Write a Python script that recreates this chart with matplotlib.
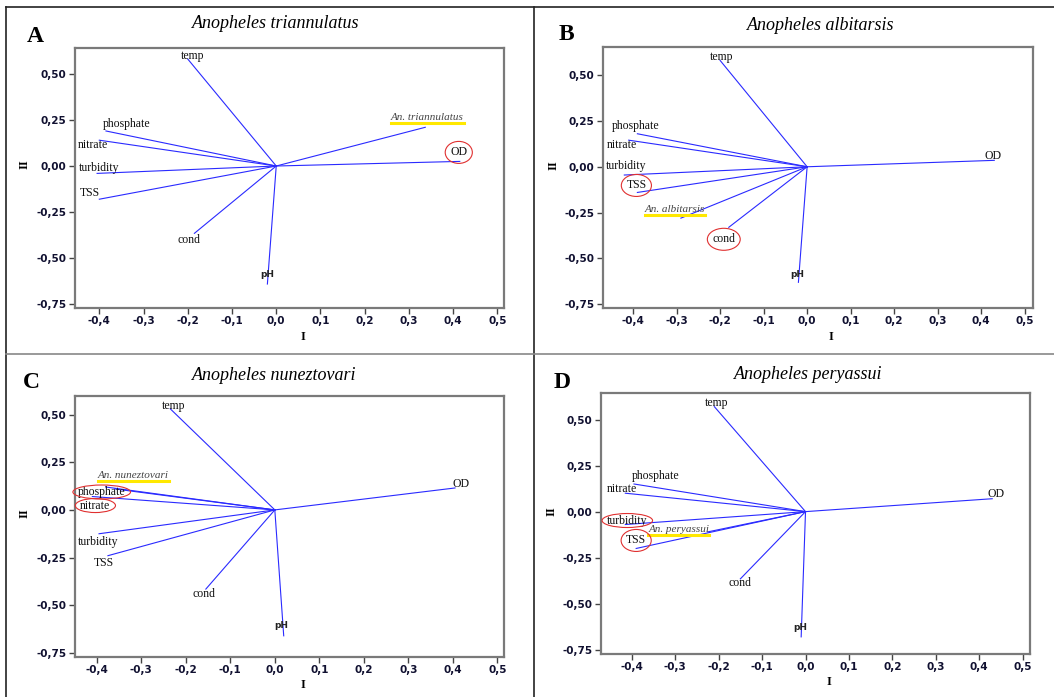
import matplotlib
matplotlib.use('Agg')
import matplotlib.pyplot as plt
from matplotlib.patches import Ellipse
from matplotlib.lines import Line2D

W, H = 1054, 697

variables = ['temp', 'phosphate', 'nitrate', 'turbidity', 'TSS', 'cond', 'pH', 'OD']

# loadings on axis I and axis II
a_pc1 = [-0.20, -0.385, -0.40, -0.405, -0.40, -0.185, -0.02, 0.415]
a_pc2 = [0.58, 0.19, 0.14, -0.04, -0.18, -0.365, -0.64, 0.025]
b_pc1 = [-0.20, -0.39, -0.41, -0.42, -0.39, -0.18, -0.02, 0.43]
b_pc2 = [0.58, 0.18, 0.145, -0.045, -0.14, -0.33, -0.63, 0.035]
c_pc1 = [-0.235, -0.38, -0.41, -0.395, -0.375, -0.155, 0.02, 0.405]
c_pc2 = [0.53, 0.12, 0.07, -0.125, -0.24, -0.415, -0.66, 0.115]
d_pc1 = [-0.21, -0.395, -0.415, -0.415, -0.39, -0.15, -0.01, 0.43]
d_pc2 = [0.57, 0.15, 0.10, -0.07, -0.20, -0.365, -0.68, 0.07]

titles = ['Anopheles triannulatus', 'Anopheles albitarsis',
          'Anopheles nuneztovari', 'Anopheles peryassui']
species = ['An. triannulatus', 'An. albitarsis', 'An. nuneztovari', 'An. peryassui']
sp_pc1 = [0.337, -0.29, -0.36, -0.225]
sp_pc2 = [0.21, -0.28, 0.11, -0.11]
circled = [['OD'], ['TSS', 'cond'], ['phosphate', 'nitrate'], ['turbidity', 'TSS']]

xticks = [-0.4, -0.3, -0.2, -0.1, 0.0, 0.1, 0.2, 0.3, 0.4, 0.5]
yticks = [-0.75, -0.50, -0.25, 0.0, 0.25, 0.50]
xtick_labels = ['-0,4', '-0,3', '-0,2', '-0,1', '0,0', '0,1', '0,2', '0,3', '0,4', '0,5']
ytick_labels = ['-0,75', '-0,50', '-0,25', '0,00', '0,25', '0,50']

# label offsets from the arrow tip, in pixels
off_a = {'temp': (5, 3), 'phosphate': (21, 7), 'nitrate': (-6, -5), 'turbidity': (2, 5),
         'TSS': (-9, 6), 'cond': (-5, -7), 'pH': (0, 10), 'OD': (-1, 9), 'sp': (2, 10)}
off_b = {'temp': (2, 3), 'phosphate': (-2, 8), 'nitrate': (-7, -5), 'turbidity': (2, 9),
         'TSS': (-1, 7), 'cond': (-5, -12), 'pH': (-1, 8), 'OD': (-1, 4), 'sp': (-6, 9)}
off_c = {'temp': (3, 3), 'phosphate': (-4, -5), 'nitrate': (3, -9), 'turbidity': (-1, -8),
         'TSS': (-4, -7), 'cond': (-2, -5), 'pH': (-2, 10), 'OD': (6, 4), 'sp': (19, 13)}
off_d = {'temp': (2, 4), 'phosphate': (22, 8), 'nitrate': (-3, 4), 'turbidity': (2, 4),
         'TSS': (0, 8), 'cond': (0, -4), 'pH': (-1, 9), 'OD': (4, 5), 'sp': (-29, 2)}

panels = [
    dict(letter='A', box=(75, 48, 504, 308), xlim=(-0.455, 0.515), ylim=(-0.77, 0.64),
         pc1=a_pc1, pc2=a_pc2, off=off_a,
         title_xy=(276, 24), letter_xy=(35, 36), ylab_xy=(25, 164), xlab_xy=(303, 337)),
    dict(letter='B', box=(603, 47, 1033, 308), xlim=(-0.469, 0.519), ylim=(-0.77, 0.653),
         pc1=b_pc1, pc2=b_pc2, off=off_b,
         title_xy=(821, 26), letter_xy=(566, 34), ylab_xy=(554, 165), xlab_xy=(831, 337)),
    dict(letter='C', box=(75, 396, 504, 657), xlim=(-0.449, 0.515), ylim=(-0.771, 0.597),
         pc1=c_pc1, pc2=c_pc2, off=off_c,
         title_xy=(274, 376), letter_xy=(31, 383), ylab_xy=(25, 513), xlab_xy=(303, 685)),
    dict(letter='D', box=(601, 393, 1030, 654), xlim=(-0.471, 0.517), ylim=(-0.773, 0.644),
         pc1=d_pc1, pc2=d_pc2, off=off_d,
         title_xy=(808, 375), letter_xy=(562, 383), ylab_xy=(552, 511), xlab_xy=(829, 682)),
]

line_color = '#2a2aff'
serif = 'Liberation Serif'

fig = plt.figure(figsize=(W / 100, H / 100), dpi=100)


def fx(x):
    return x / W


def fy(y):
    return 1 - y / H


species_texts = []
circle_texts = []

for i, p in enumerate(panels):
    l, t, r, b = p['box']
    ax = fig.add_axes([fx(l), fy(b), (r - l) / W, (b - t) / H])
    ax.set_xlim(*p['xlim'])
    ax.set_ylim(*p['ylim'])
    ax.set_xticks(xticks)
    ax.set_xticklabels(xtick_labels)
    ax.set_yticks(yticks)
    ax.set_yticklabels(ytick_labels)
    ax.tick_params(length=4, width=1, color='#444444', labelsize=7.5, labelcolor='#101030', pad=2)
    for lab in ax.get_xticklabels() + ax.get_yticklabels():
        lab.set_fontweight('bold')
    for s in ax.spines.values():
        s.set_color('#7a7a7a')
        s.set_linewidth(1.6)

    for name, x, y in zip(variables, p['pc1'], p['pc2']):
        ax.plot([0, x], [0, y], color=line_color, lw=0.8)
        dx, dy = p['off'][name]
        if name == 'pH':
            txt = ax.annotate(name, (x, y), xytext=(dx, dy), textcoords='offset pixels',
                              ha='center', va='center', fontsize=6.5, fontweight='bold',
                              color='#222222')
        else:
            txt = ax.annotate(name, (x, y), xytext=(dx, dy), textcoords='offset pixels',
                              ha='center', va='center', fontsize=8.5, family=serif,
                              color='#111111')
        if name in circled[i]:
            circle_texts.append(txt)

    sx, sy = sp_pc1[i], sp_pc2[i]
    ax.plot([0, sx], [0, sy], color=line_color, lw=0.8)
    dx, dy = p['off']['sp']
    st = ax.annotate(species[i], (sx, sy), xytext=(dx, dy), textcoords='offset pixels',
                     ha='center', va='center', fontsize=8, family=serif, style='italic',
                     color='#444444')
    species_texts.append(st)

    fig.text(fx(p['title_xy'][0]), fy(p['title_xy'][1]), titles[i], ha='center', va='center',
             family=serif, style='italic', fontsize=13)
    fig.text(fx(p['letter_xy'][0]), fy(p['letter_xy'][1]), p['letter'], ha='center', va='center',
             family=serif, fontweight='bold', fontsize=17)
    fig.text(fx(p['ylab_xy'][0]), fy(p['ylab_xy'][1]), 'II', ha='center', va='center',
             family=serif, fontweight='bold', fontsize=9, rotation=90)
    fig.text(fx(p['xlab_xy'][0]), fy(p['xlab_xy'][1]), 'I', ha='center', va='center',
             family=serif, fontweight='bold', fontsize=9)

# panel frame lines
fig.add_artist(Line2D([fx(6), 1], [fy(7), fy(7)], color='#222222', lw=1.2))
fig.add_artist(Line2D([fx(6), fx(6)], [fy(7), 0], color='#222222', lw=1.2))
fig.add_artist(Line2D([fx(534), fx(534)], [fy(7), 0], color='#222222', lw=1.2))
fig.add_artist(Line2D([fx(6), 1], [fy(354), fy(354)], color='#888888', lw=1.2))

# yellow underlines and red rings sized from the drawn text
fig.canvas.draw()
renderer = fig.canvas.get_renderer()
for st in species_texts:
    bb = st.get_window_extent(renderer)
    fig.add_artist(Line2D([bb.x0 / W, bb.x1 / W], [(bb.y0 - 1) / H, (bb.y0 - 1) / H],
                          color='#ffe800', lw=2.2, zorder=1))
for txt in circle_texts:
    bb = txt.get_window_extent(renderer)
    w = bb.width + 10
    h = 22 if bb.width < 25 else 14
    fig.add_artist(Ellipse(((bb.x0 + bb.x1) / 2 / W, (bb.y0 + bb.y1) / 2 / H), w / W, h / H,
                           fill=False, edgecolor='#e03030', lw=0.8))

fig.savefig('out.png', dpi=100)
